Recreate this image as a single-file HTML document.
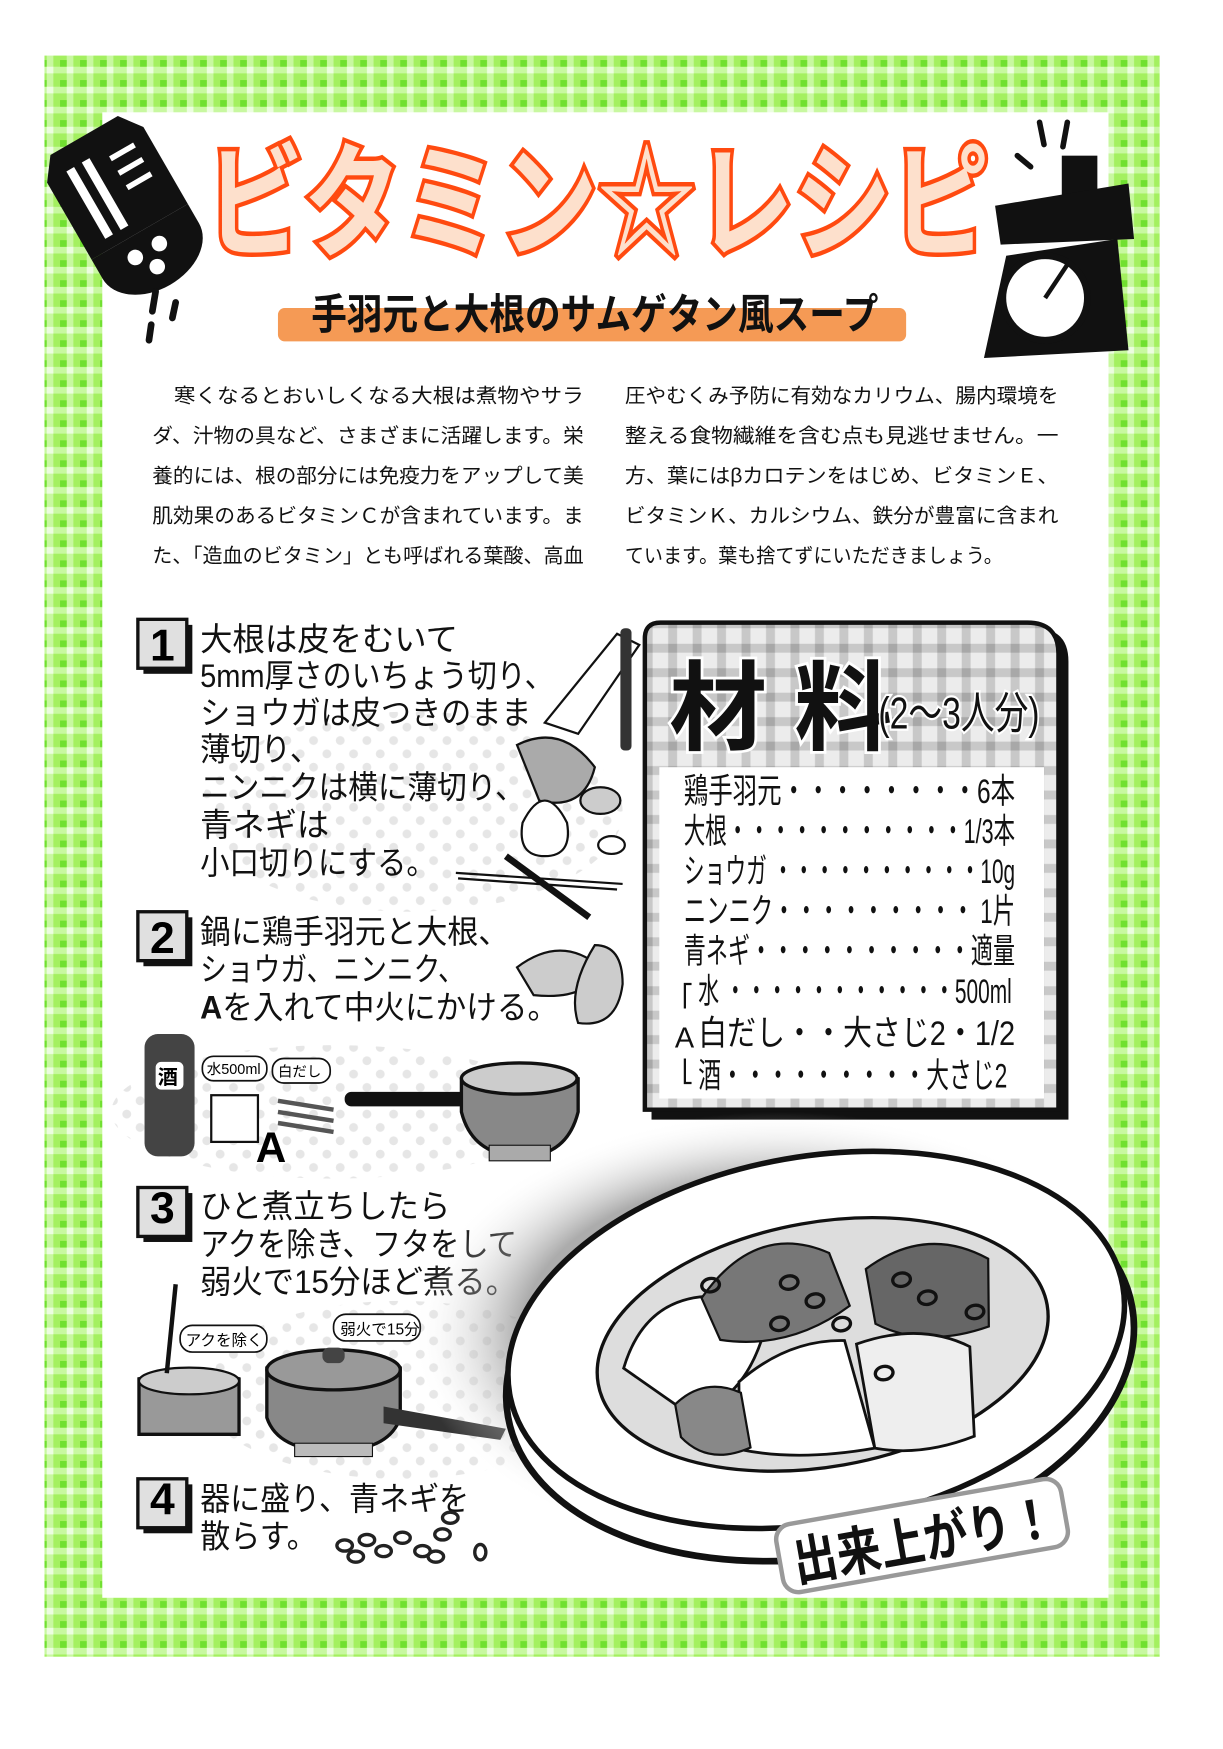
<!DOCTYPE html>
<html><head><meta charset="utf-8"><style>
html,body{margin:0;padding:0;background:#fff;width:1223px;height:1749px;overflow:hidden}
svg{display:block}
text{font-family:"Liberation Sans","Noto Sans CJK JP",sans-serif}
</style></head><body>
<svg width="1223" height="1749" viewBox="0 0 1100 1573" preserveAspectRatio="none" xmlns="http://www.w3.org/2000/svg">
<defs>
<pattern id="g" width="18" height="18" patternUnits="userSpaceOnUse">
<rect width="18" height="18" fill="#a4f060"/>
<rect x="0" y="6" width="18" height="6" fill="#c8f8a0"/>
<rect x="6" y="0" width="6" height="18" fill="#c8f8a0"/>
<rect x="6" y="6" width="6" height="6" fill="#ecfde0"/>
<rect x="0" y="0" width="6" height="6" fill="#70e030"/>
</pattern>
<pattern id="gg" width="22" height="22" patternUnits="userSpaceOnUse">
<rect width="22" height="22" fill="#ececec"/>
<rect x="0" y="7" width="22" height="8" fill="#c8c8c8"/>
<rect x="7" y="0" width="8" height="22" fill="#c8c8c8"/>
<rect x="7" y="7" width="8" height="8" fill="#a8a8a8"/>
</pattern>
<pattern id="dots" width="24" height="24" patternUnits="userSpaceOnUse">
<circle cx="6" cy="6" r="4" fill="#e6e6e6"/><circle cx="18" cy="18" r="4" fill="#e6e6e6"/>
</pattern>
<radialGradient id="sh" cx="0.5" cy="0.5" r="0.5">
<stop offset="0.7" stop-color="#888"/><stop offset="1" stop-color="#fff" stop-opacity="0"/>
</radialGradient>
</defs>
<rect width="1100" height="1573" fill="#fff"/>
<!-- border -->
<rect x="40" y="50" width="1003" height="1440" fill="url(#g)"/>
<rect x="92" y="101" width="905" height="1336" fill="#fff"/>

<!-- salt shaker -->
<g transform="rotate(-30 115 180)">
<path d="M75 110 h70 l15 20 v80 h-100 v-80z" fill="#111"/>
<rect x="80" y="130" width="8" height="70" fill="#fff"/><rect x="96" y="130" width="8" height="70" fill="#fff"/>
<path d="M120 140 h25 M120 155 h25 M120 170 h25" stroke="#fff" stroke-width="5"/>
<path d="M60 210 h100 v20 a50 35 0 0 1 -100 0z" fill="#111"/>
<circle cx="95" cy="228" r="7" fill="#fff"/><circle cx="120" cy="228" r="7" fill="#fff"/><circle cx="108" cy="245" r="7" fill="#fff"/>
</g>
<path d="M140 262 l-3 18 M158 272 l-3 14 M136 292 l-2 14" stroke="#111" stroke-width="6" stroke-linecap="round"/>

<!-- scale -->
<path d="M935 110 l4 20 M960 110 l-4 22 M915 140 l12 10" stroke="#111" stroke-width="5" stroke-linecap="round"/>
<rect x="955" y="140" width="32" height="40" fill="#111"/>
<path d="M895 185 L1015 165 L1020 215 L900 220z" fill="#111"/>
<path d="M905 230 L1005 215 L1015 315 L885 322z" fill="#111"/>
<circle cx="940" cy="268" r="38" fill="#fff" stroke="#111" stroke-width="6"/>
<line x1="940" y1="268" x2="960" y2="238" stroke="#111" stroke-width="4"/>

<!-- title -->
<text x="185" y="222" font-size="112" font-weight="bold" fill="#fde0cc" stroke="#ff4a10" stroke-width="8" paint-order="stroke" textLength="705" lengthAdjust="spacingAndGlyphs">ビタミン☆レシピ</text>
<rect x="250" y="277" width="565" height="30" rx="6" fill="#f59a55"/>
<text x="280" y="296" font-size="38" font-weight="bold" fill="#111" textLength="510" lengthAdjust="spacingAndGlyphs">手羽元と大根のサムゲタン風スープ</text>

<!-- paragraph -->
<g font-size="18" fill="#111">
<text x="137" y="362" textLength="388" lengthAdjust="spacingAndGlyphs">　寒くなるとおいしくなる大根は煮物やサラ</text>
<text x="137" y="398" textLength="388" lengthAdjust="spacingAndGlyphs">ダ、汁物の具など、さまざまに活躍します。栄</text>
<text x="137" y="434" textLength="388" lengthAdjust="spacingAndGlyphs">養的には、根の部分には免疫力をアップして美</text>
<text x="137" y="470" textLength="388" lengthAdjust="spacingAndGlyphs">肌効果のあるビタミンＣが含まれています。ま</text>
<text x="137" y="506" textLength="388" lengthAdjust="spacingAndGlyphs">た、「造血のビタミン」とも呼ばれる葉酸、高血</text>
<text x="562" y="362" textLength="390" lengthAdjust="spacingAndGlyphs">圧やむくみ予防に有効なカリウム、腸内環境を</text>
<text x="562" y="398" textLength="390" lengthAdjust="spacingAndGlyphs">整える食物繊維を含む点も見逃せません。一</text>
<text x="562" y="434" textLength="390" lengthAdjust="spacingAndGlyphs">方、葉にはβカロテンをはじめ、ビタミンＥ、</text>
<text x="562" y="470" textLength="390" lengthAdjust="spacingAndGlyphs">ビタミンＫ、カルシウム、鉄分が豊富に含まれ</text>
<text x="562" y="506" textLength="340" lengthAdjust="spacingAndGlyphs">ています。葉も捨てずにいただきましょう。</text>
</g>

<!-- dotted backgrounds -->
<ellipse cx="370" cy="730" rx="190" ry="90" fill="url(#dots)"/>
<ellipse cx="300" cy="1000" rx="200" ry="60" fill="url(#dots)"/>
<ellipse cx="360" cy="1250" rx="180" ry="80" fill="url(#dots)"/>

<!-- step numbers -->
<g font-weight="bold" font-size="40" text-anchor="middle">
<g><rect x="129" y="562" width="44" height="44" fill="#111"/><rect x="124" y="557" width="44" height="44" fill="#e0e0e0" stroke="#111" stroke-width="3"/><text x="146" y="594">1</text></g>
<g><rect x="129" y="825" width="44" height="44" fill="#111"/><rect x="124" y="820" width="44" height="44" fill="#e0e0e0" stroke="#111" stroke-width="3"/><text x="146" y="857">2</text></g>
<g><rect x="129" y="1073" width="44" height="44" fill="#111"/><rect x="124" y="1068" width="44" height="44" fill="#e0e0e0" stroke="#111" stroke-width="3"/><text x="146" y="1100">3</text></g>
<g><rect x="129" y="1335" width="44" height="44" fill="#111"/><rect x="124" y="1330" width="44" height="44" fill="#e0e0e0" stroke="#111" stroke-width="3"/><text x="146" y="1362">4</text></g>
</g>

<!-- step text -->
<g font-size="29" fill="#111">
<text x="180" y="585" textLength="232" lengthAdjust="spacingAndGlyphs">大根は皮をむいて</text>
<text x="180" y="618" textLength="318" lengthAdjust="spacingAndGlyphs">5mm厚さのいちょう切り、</text>
<text x="180" y="651" textLength="298" lengthAdjust="spacingAndGlyphs">ショウガは皮つきのまま</text>
<text x="180" y="684" textLength="108" lengthAdjust="spacingAndGlyphs">薄切り、</text>
<text x="180" y="718" textLength="292" lengthAdjust="spacingAndGlyphs">ニンニクは横に薄切り、</text>
<text x="180" y="752" textLength="116" lengthAdjust="spacingAndGlyphs">青ネギは</text>
<text x="180" y="786" textLength="212" lengthAdjust="spacingAndGlyphs">小口切りにする。</text>
<text x="180" y="848" textLength="278" lengthAdjust="spacingAndGlyphs">鍋に鶏手羽元と大根、</text>
<text x="180" y="882" textLength="238" lengthAdjust="spacingAndGlyphs">ショウガ、ニンニク、</text>
<text x="180" y="916" textLength="322" lengthAdjust="spacingAndGlyphs"><tspan font-weight="bold">A</tspan>を入れて中火にかける。</text>
<text x="180" y="1095" textLength="225" lengthAdjust="spacingAndGlyphs">ひと煮立ちしたら</text>
<text x="180" y="1129" textLength="285" lengthAdjust="spacingAndGlyphs">アクを除き、フタをして</text>
<text x="180" y="1163" textLength="285" lengthAdjust="spacingAndGlyphs">弱火で15分ほど煮る。</text>
<text x="180" y="1358" textLength="242" lengthAdjust="spacingAndGlyphs">器に盛り、青ネギを</text>
<text x="180" y="1392" textLength="105" lengthAdjust="spacingAndGlyphs">散らす。</text>
</g>

<!-- step1 illustrations -->
<path d="M490 650 L555 570 L575 580 L520 660z" fill="#fff" stroke="#111" stroke-width="2"/>
<rect x="558" y="565" width="10" height="110" fill="#333" rx="4"/>
<path d="M465 670 q40 -20 70 20 q-10 40 -50 30z" fill="#aaa" stroke="#111" stroke-width="2"/>
<ellipse cx="540" cy="720" rx="18" ry="12" fill="#ccc" stroke="#111" stroke-width="2"/>
<path d="M470 740 q20 -40 40 0 q5 30 -20 30 q-25 0 -20 -30z" fill="#fff" stroke="#111" stroke-width="2"/>
<ellipse cx="550" cy="760" rx="12" ry="8" fill="#fff" stroke="#111" stroke-width="2"/>
<path d="M410 785 L560 795 M412 790 L555 800" stroke="#111" stroke-width="2"/>
<line x1="455" y1="770" x2="530" y2="825" stroke="#111" stroke-width="6"/>
<!-- step2 -->
<path d="M465 870 q40 -30 75 0 q-10 30 -60 25z" fill="#ccc" stroke="#111" stroke-width="2"/>
<path d="M535 850 q25 0 25 35 q-5 40 -40 35 q-10 -30 15 -70z" fill="#ccc" stroke="#111" stroke-width="2"/>
<rect x="130" y="930" width="45" height="110" rx="12" fill="#444"/>
<rect x="140" y="955" width="25" height="25" rx="5" fill="#fff"/><text x="142" y="975" font-size="18" font-weight="bold">酒</text>
<rect x="182" y="950" width="58" height="22" rx="10" fill="#fff" stroke="#111" stroke-width="1.5"/><text x="186" y="966" font-size="13">水500ml</text>
<rect x="245" y="952" width="52" height="22" rx="10" fill="#fff" stroke="#111" stroke-width="1.5"/><text x="250" y="968" font-size="13">白だし</text>
<rect x="190" y="985" width="42" height="42" fill="#fff" stroke="#111" stroke-width="2"/>
<path d="M250 990 l50 8 M250 1000 l50 8 M250 1010 l50 8" stroke="#555" stroke-width="4"/>
<text x="230" y="1045" font-size="38" font-weight="bold">A</text>
<rect x="310" y="982" width="110" height="13" rx="6" fill="#111"/>
<path d="M415 970 q55 -20 105 0 v30 q-10 40 -50 40 q-45 0 -55 -40z" fill="#888" stroke="#111" stroke-width="3"/>
<ellipse cx="467" cy="970" rx="52" ry="14" fill="#ccc" stroke="#111" stroke-width="3"/>
<rect x="440" y="1030" width="55" height="14" fill="#aaa" stroke="#111"/>
<!-- step3 -->
<path d="M125 1240 q50 -10 90 0 v50 h-90z" fill="#999" stroke="#111" stroke-width="3"/>
<ellipse cx="170" cy="1242" rx="45" ry="12" fill="#ccc" stroke="#111" stroke-width="2"/>
<line x1="158" y1="1155" x2="150" y2="1235" stroke="#111" stroke-width="4"/>
<rect x="162" y="1192" width="78" height="24" rx="11" fill="#fff" stroke="#111" stroke-width="1.5"/><text x="167" y="1210" font-size="14">アクを除く</text>
<rect x="300" y="1182" width="78" height="24" rx="11" fill="#fff" stroke="#111" stroke-width="1.5"/><text x="306" y="1200" font-size="14">弱火で15分</text>
<path d="M240 1230 q60 -30 120 0 v45 q-10 30 -60 30 q-50 0 -60 -30z" fill="#888" stroke="#111" stroke-width="3"/>
<ellipse cx="300" cy="1232" rx="60" ry="18" fill="#999" stroke="#111" stroke-width="3"/>
<rect x="290" y="1212" width="20" height="14" rx="6" fill="#444"/>
<path d="M345 1265 L455 1285 L450 1295 L345 1280z" fill="#333"/>
<rect x="265" y="1298" width="70" height="12" fill="#bbb" stroke="#111"/>
<!-- scallions -->
<g fill="none" stroke="#222" stroke-width="3">
<ellipse cx="310" cy="1390" rx="7" ry="5"/><ellipse cx="330" cy="1385" rx="7" ry="5"/><ellipse cx="345" cy="1395" rx="7" ry="5"/><ellipse cx="362" cy="1383" rx="7" ry="5"/><ellipse cx="320" cy="1400" rx="7" ry="5"/><ellipse cx="380" cy="1395" rx="7" ry="5"/><ellipse cx="398" cy="1380" rx="7" ry="5"/><ellipse cx="392" cy="1400" rx="7" ry="5"/><ellipse cx="432" cy="1396" rx="5" ry="7"/><ellipse cx="405" cy="1365" rx="7" ry="5"/>
</g>

<!-- ingredients box -->
<path d="M586 580 q0 -15 15 -15 h330 q30 0 30 30 v412 h-375z" fill="#111"/>
<path d="M580 574 q0 -14 14 -14 h330 q28 0 28 28 v410 h-372z" fill="url(#gg)" stroke="#111" stroke-width="4"/>
<rect x="593" y="690" width="346" height="298" fill="#fff"/>
<text x="602" y="668" font-size="88" font-weight="bold" fill="#111" stroke="#fff" stroke-width="5" paint-order="stroke">材 料</text>
<text x="790" y="655" font-size="40" fill="#111" stroke="#fff" stroke-width="4" paint-order="stroke" textLength="145" lengthAdjust="spacingAndGlyphs">(2～3人分)</text>
<g font-size="31" fill="#111">
<text x="615" y="722" textLength="298" lengthAdjust="spacingAndGlyphs">鶏手羽元・・・・・・・・6本</text>
<text x="615" y="758" textLength="298" lengthAdjust="spacingAndGlyphs">大根・・・・・・・・・・・1/3本</text>
<text x="615" y="794" textLength="298" lengthAdjust="spacingAndGlyphs">ショウガ ・・・・・・・・・・10g</text>
<text x="615" y="830" textLength="298" lengthAdjust="spacingAndGlyphs">ニンニク・・・・・・・・・ 1片</text>
<text x="615" y="866" textLength="298" lengthAdjust="spacingAndGlyphs">青ネギ・・・・・・・・・・適量</text>
<text x="628" y="902" textLength="282" lengthAdjust="spacingAndGlyphs">水 ・・・・・・・・・・・500ml</text>
<text x="628" y="940" textLength="285" lengthAdjust="spacingAndGlyphs">白だし・・大さじ2・1/2</text>
<text x="628" y="978" textLength="278" lengthAdjust="spacingAndGlyphs">酒・・・・・・・・・大さじ2</text>
<text x="607" y="942" font-size="26">A</text>
</g>
<path d="M622 885 h-6 v22 M616 952 v22 h6" stroke="#111" stroke-width="2" fill="none"/>

<!-- bowl -->
<ellipse cx="700" cy="1200" rx="330" ry="200" fill="url(#sh)" opacity="0.7"/>
<g transform="rotate(-10 735 1210)">
<ellipse cx="735" cy="1225" rx="285" ry="175" fill="#fff" stroke="#111" stroke-width="6"/>
<ellipse cx="735" cy="1205" rx="280" ry="165" fill="#fff" stroke="#111" stroke-width="5"/>
<ellipse cx="740" cy="1210" rx="205" ry="110" fill="#ddd" stroke="#111" stroke-width="3"/>
<path d="M560 1200 q30 -60 90 -50 l40 40 q-30 60 -80 60z" fill="#fff" stroke="#111" stroke-width="2.5"/>
<path d="M640 1150 q60 -60 120 -20 l10 50 q-60 30 -120 10z" fill="#777" stroke="#111" stroke-width="2"/>
<path d="M790 1150 q60 -30 110 10 l-10 60 q-60 10 -100 -20z" fill="#666" stroke="#111" stroke-width="2"/>
<path d="M660 1230 q50 -30 100 -20 l10 100 q-70 0 -120 -20z" fill="#fff" stroke="#111" stroke-width="2.5"/>
<path d="M770 1215 q60 -10 100 20 l-10 80 q-50 10 -90 -5z" fill="#eee" stroke="#111" stroke-width="2.5"/>
<path d="M600 1240 q30 -20 60 0 v50 q-40 10 -60 -20z" fill="#888" stroke="#111" stroke-width="2"/>
<g fill="none" stroke="#111" stroke-width="3">
<ellipse cx="720" cy="1150" rx="8" ry="6"/><ellipse cx="740" cy="1170" rx="8" ry="6"/><ellipse cx="705" cy="1185" rx="8" ry="6"/><ellipse cx="760" cy="1195" rx="8" ry="6"/><ellipse cx="820" cy="1165" rx="8" ry="6"/><ellipse cx="840" cy="1185" rx="8" ry="6"/><ellipse cx="880" cy="1205" rx="8" ry="6"/><ellipse cx="790" cy="1245" rx="8" ry="6"/><ellipse cx="650" cy="1140" rx="8" ry="6"/>
</g>
</g>
<!-- 出来上がり -->
<g transform="rotate(-10 830 1385)">
<rect x="700" y="1350" width="260" height="62" rx="14" fill="#fff" stroke="#999" stroke-width="4"/>
<text x="712" y="1402" font-size="48" font-weight="bold" fill="#111" textLength="238" lengthAdjust="spacingAndGlyphs">出来上がり！</text>
</g>
</svg>
</body></html>
